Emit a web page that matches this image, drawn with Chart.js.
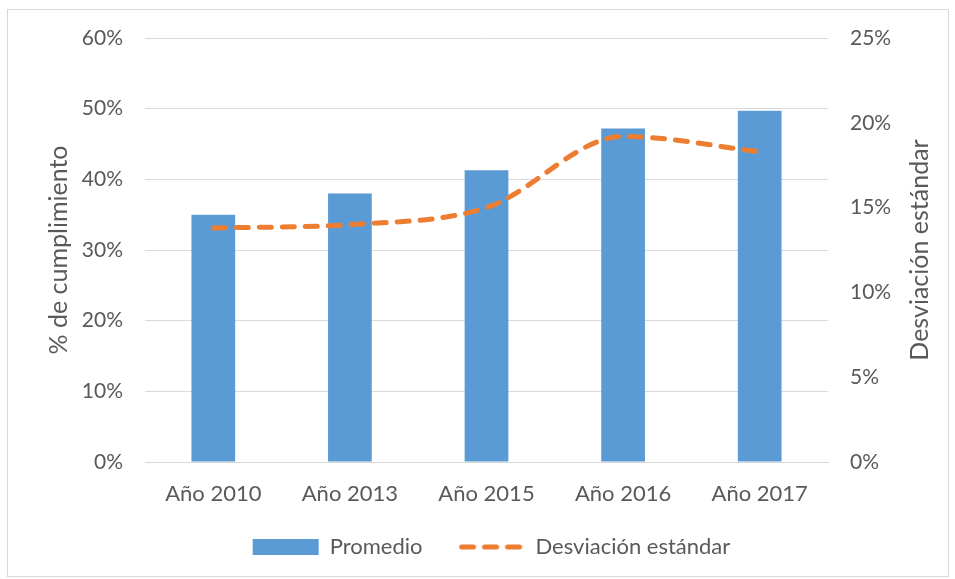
<!DOCTYPE html>
<html>
<head>
<meta charset="utf-8">
<script src="https://cdn.jsdelivr.net/npm/chart.js@4"></script>
<style>
  html, body { margin: 0; padding: 0; background: #fff; }
  #wrap { width: 955px; height: 579px; position: relative; }
</style>
</head>
<body>
<div id="wrap"><canvas id="cumplimientoChart" width="955" height="579"></canvas></div>
<script>
const categories = ['Año 2010', 'Año 2013', 'Año 2015', 'Año 2016', 'Año 2017'];
const promedio = [0.350, 0.380, 0.413, 0.472, 0.497];
const desviacion = [0.138, 0.140, 0.150, 0.192, 0.183];
const leftTicks = [0, 0.1, 0.2, 0.3, 0.4, 0.5, 0.6];
const rightTicks = [0, 0.05, 0.1, 0.15, 0.2, 0.25];

const textColor = '#595959';
const fontFamily = 'Lato, "Open Sans", sans-serif';
const orange = '#ED7D31';
const blue = '#5B9BD5';
const pct = v => Math.round(v * 100) + '%';

// símbolo de leyenda: línea discontinua
const dashIcon = document.createElement('canvas');
dashIcon.width = 66;
dashIcon.height = 8;
(function () {
    const c = dashIcon.getContext('2d');
    c.strokeStyle = orange;
    c.lineWidth = 5;
    c.lineCap = 'round';
    c.setLineDash([12, 11]);
    c.beginPath();
    c.moveTo(3, 4);
    c.lineTo(64, 4);
    c.stroke();
})();

// marco gris y título del eje derecho (leído de abajo hacia arriba)
const framePlugin = {
    id: 'frame',
    afterInit(chart) {
        // la leyenda necesita mucho espacio entre elementos pero poca altura
        const legend = chart.legend;
        const origFit = legend.fit;
        const origDraw = legend.draw;
        legend.fit = function () {
            origFit.call(this);
            this.height = 69;
        };
        legend.draw = function () {
            const c = this.ctx;
            c.save();
            c.translate(14, -10);
            origDraw.apply(this, arguments);
            c.restore();
        };
    },
    afterDraw(chart) {
        const c = chart.ctx;
        const area = chart.chartArea;
        c.save();
        c.strokeStyle = '#D9D9D9';
        c.lineWidth = 1;
        c.strokeRect(7.5, 9.5, 941, 567);
        c.translate(920, (area.top + area.bottom) / 2);
        c.rotate(-Math.PI / 2);
        c.fillStyle = textColor;
        c.font = '25px ' + fontFamily;
        c.textAlign = 'center';
        c.textBaseline = 'middle';
        c.fillText('Desviación estándar', 0, 0);
        c.restore();
    }
};

const ctx = document.getElementById('cumplimientoChart').getContext('2d');

new Chart(ctx, {
    data: {
        labels: categories,
        datasets: [
            {
                type: 'line',
                label: 'Desviación estándar',
                data: desviacion,
                yAxisID: 'y1',
                borderColor: orange,
                backgroundColor: orange,
                borderWidth: 5,
                borderDash: [12, 11],
                borderCapStyle: 'round',
                cubicInterpolationMode: 'monotone',
                pointRadius: 0,
                pointStyle: dashIcon,
                order: 1
            },
            {
                type: 'bar',
                label: 'Promedio',
                data: promedio,
                yAxisID: 'y',
                backgroundColor: blue,
                borderWidth: 0,
                categoryPercentage: 1,
                barPercentage: 0.32,
                pointStyle: 'rect',
                order: 2
            }
        ]
    },
    options: {
        responsive: false,
        animation: false,
        layout: { padding: { top: 38, left: 0, right: 0, bottom: 0 } },
        plugins: {
            tooltip: { enabled: false },
            legend: {
                position: 'bottom',
                reverse: true,
                labels: {
                    usePointStyle: true,
                    pointStyleWidth: 66,
                    boxHeight: 16,
                    padding: 36,
                    color: textColor,
                    font: { family: fontFamily, size: 22 }
                }
            }
        },
        scales: {
            x: {
                grid: { display: false, drawTicks: false },
                border: { color: '#D9D9D9', width: 1 },
                ticks: {
                    color: textColor,
                    font: { family: fontFamily, size: 22 },
                    padding: 19,
                    maxRotation: 0
                },
                afterFit(scale) { scale.height = 48; }
            },
            y: {
                position: 'left',
                min: 0,
                max: 0.6,
                afterBuildTicks(scale) { scale.ticks = leftTicks.map(v => ({ value: v })); },
                grid: { color: '#D9D9D9', lineWidth: 1, drawTicks: false },
                border: { display: false },
                ticks: {
                    color: textColor,
                    font: { family: fontFamily, size: 21 },
                    padding: 22,
                    callback: pct
                },
                title: {
                    display: true,
                    text: '% de cumplimiento',
                    color: textColor,
                    font: { family: fontFamily, size: 25 },
                    padding: { top: 44, bottom: 0 }
                },
                afterFit(scale) { scale.width = 145; }
            },
            y1: {
                position: 'right',
                min: 0,
                max: 0.25,
                afterBuildTicks(scale) { scale.ticks = rightTicks.map(v => ({ value: v })); },
                grid: { display: false, drawTicks: false },
                border: { display: false },
                ticks: {
                    color: textColor,
                    font: { family: fontFamily, size: 21 },
                    padding: 22,
                    callback: pct
                },
                afterFit(scale) { scale.width = 127; }
            }
        }
    },
    plugins: [framePlugin]
});
</script>
</body>
</html>
